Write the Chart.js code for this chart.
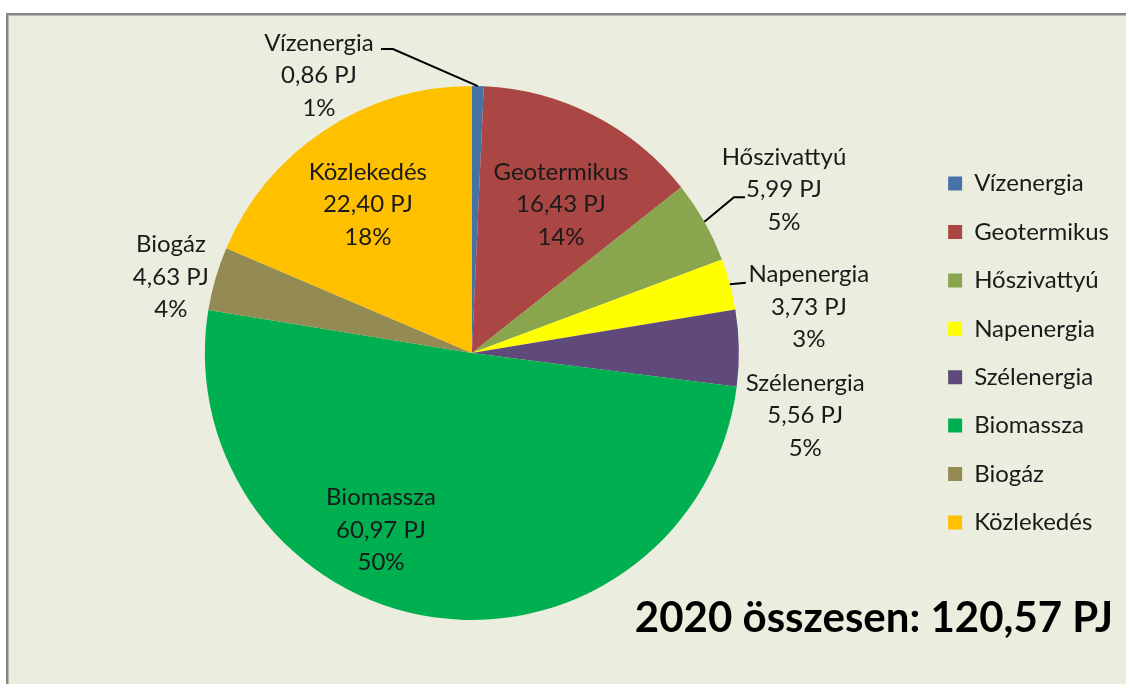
<!DOCTYPE html>
<html><head><meta charset="utf-8">
<script src="https://cdn.jsdelivr.net/npm/chart.js@4"></script>
<style>html,body{margin:0;padding:0;background:#fff;}canvas{display:block;}</style>
</head><body>
<canvas id="c" width="1126" height="684"></canvas>
<script>
const categories = ['Vízenergia','Geotermikus','Hőszivattyú','Napenergia','Szélenergia','Biomassza','Biogáz','Közlekedés'];
const valuesPJ = [0.86, 16.43, 5.99, 3.73, 5.56, 60.97, 4.63, 22.40];
const percentLabels = ['1%','14%','5%','3%','5%','50%','4%','18%'];
const sliceColors = ['#4572A7','#AA4643','#89A54E','#FFFF00','#604A7B','#00B050','#948A54','#FFC000'];
const unitLabel = 'PJ';
const totalLabel = '2020 összesen: 120,57 PJ';

function fmt(v){ return v.toFixed(2).replace('.', ',') + ' ' + unitLabel; }

const frame = {
  id: 'frame',
  beforeDraw(chart, args, o) {
    const ctx = chart.ctx;
    ctx.save();
    ctx.fillStyle = '#ffffff';
    ctx.fillRect(0, 0, chart.width, chart.height);
    ctx.fillStyle = o.bg;
    ctx.fillRect(7, 14, chart.width, chart.height);
    ctx.strokeStyle = '#868686';
    ctx.lineWidth = 2.5;
    ctx.beginPath();
    ctx.moveTo(7.25, chart.height + 5);
    ctx.lineTo(7.25, 14.25);
    ctx.lineTo(chart.width + 5, 14.25);
    ctx.stroke();
    ctx.restore();
  }
};

const sliceLabels = {
  id: 'sliceLabels',
  afterDatasetsDraw(chart, args, o) {
    const ctx = chart.ctx;
    const meta = chart.getDatasetMeta(0);
    ctx.save();
    meta.data.forEach((arc, i) => {
      const p = arc.getProps(['x','y','startAngle','endAngle','outerRadius'], true);
      const mid = (p.startAngle + p.endAngle) / 2;
      const pl = o.placement[i];
      const a = mid + pl.d * Math.PI / 180;
      const cx = p.x + Math.cos(a) * p.outerRadius * pl.r;
      const cy = p.y + Math.sin(a) * p.outerRadius * pl.r;
      if (pl.leader) {
        ctx.strokeStyle = '#000';
        ctx.lineWidth = 2;
        ctx.beginPath();
        ctx.moveTo(p.x + Math.cos(mid) * p.outerRadius, p.y + Math.sin(mid) * p.outerRadius);
        pl.leader.forEach(off => ctx.lineTo(cx + off[0], cy + off[1]));
        ctx.stroke();
      }
      ctx.fillStyle = o.color;
      ctx.font = o.font;
      ctx.textAlign = 'center';
      ctx.textBaseline = 'alphabetic';
      const lines = [categories[i], fmt(valuesPJ[i]), percentLabels[i]];
      lines.forEach((t, k) => ctx.fillText(t, cx, cy + o.capHalf + (k - 1) * o.lineHeight));
    });
    ctx.restore();
  }
};

const totalText = {
  id: 'totalText',
  afterDraw(chart, args, o) {
    const ctx = chart.ctx;
    ctx.save();
    ctx.fillStyle = '#000';
    ctx.font = o.font;
    ctx.textAlign = 'right';
    ctx.textBaseline = 'alphabetic';
    ctx.fillText(totalLabel, o.x, o.y);
    ctx.restore();
  }
};

new Chart(document.getElementById('c'), {
  type: 'pie',
  data: {
    labels: categories,
    datasets: [{ data: valuesPJ, backgroundColor: sliceColors, borderWidth: 0 }]
  },
  options: {
    responsive: false,
    animation: false,
    devicePixelRatio: 1,
    events: [],
    layout: { padding: { left: 20, right: 7, top: 86, bottom: 64 } },
    plugins: {
      tooltip: { enabled: false },
      legend: {
        position: 'right',
        labels: {
          boxWidth: 14, boxHeight: 14, padding: 24.4,
          color: '#1a1a1a',
          font: { family: 'Lato', size: 24 }
        }
      },
      frame: { bg: '#EBEEDE' },
      sliceLabels: {
        font: '24px Lato', color: '#1a1a1a', lineHeight: 32.5, capHalf: 8,
        placement: [
          { r: 1.188, d: -30.1, leader: [[74, -26], [62, -26]] },
          { r: 0.65, d: 3.8 },
          { r: 1.32, d: 1.75, leader: [[-50, 8], [-39, 8]] },
          { r: 1.274, d: 7.1, leader: [[-63, -24]] },
          { r: 1.27, d: 11.6 },
          { r: 0.745, d: 18.9 },
          { r: 1.163, d: -2.0 },
          { r: 0.68, d: -1.5 }
        ]
      },
      totalText: { font: 'bold 42px Lato', x: 1113, y: 632 }
    }
  },
  plugins: [frame, sliceLabels, totalText]
});
</script>
</body></html>
